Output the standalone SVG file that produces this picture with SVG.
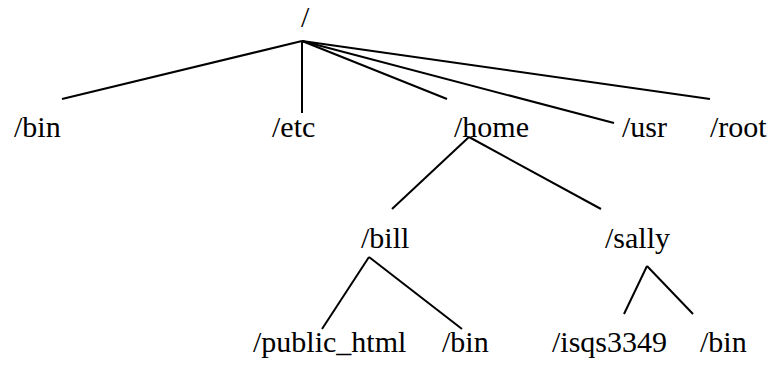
<svg xmlns="http://www.w3.org/2000/svg" width="771" height="368" viewBox="0 0 771 368">
<style>
.t{font-family:'DejaVu Serif',serif;font-size:30px;fill:#000}
.u{font-family:'Times New Roman',serif;font-size:30px;fill:#000}
.c line{stroke:#000;stroke-width:2;stroke-linecap:butt}
</style>
<rect width="771" height="368" fill="#fff"/>
<g class="c" id="connectors">
<line x1="302" y1="41" x2="62" y2="99"/>
<line x1="302" y1="41" x2="302" y2="113"/>
<line x1="302" y1="41" x2="447" y2="99"/>
<line x1="302" y1="41" x2="614" y2="123"/>
<line x1="302" y1="41" x2="710" y2="99"/>
<line x1="469" y1="137" x2="392" y2="209"/>
<line x1="469" y1="137" x2="601" y2="209"/>
<line x1="369" y1="257" x2="322" y2="329"/>
<line x1="369" y1="257" x2="462" y2="329"/>
<line x1="647" y1="266" x2="624" y2="314"/>
<line x1="647" y1="266" x2="693" y2="314"/>
</g>
<g class="u">
<g id="root"><text x="301" y="27">/</text></g>
<g id="bin"><text x="14" y="137">/bin</text></g>
<g id="etc"><text x="272" y="137">/etc</text></g>
<g id="home"><text x="454" y="137">/home</text></g>
<g id="usr"><text x="622" y="137">/usr</text></g>
<g id="rootdir"><text x="710" y="137">/root</text></g>
<g id="bill"><text x="361" y="248">/bill</text></g>
<g id="sally"><text x="605" y="248">/sally</text></g>
<g id="public_html"><text x="253" y="352">/public_html</text></g>
<g id="bill_bin"><text x="442" y="352">/bin</text></g>
<g id="isqs3349"><text x="552" y="352">/isqs3349</text></g>
<g id="sally_bin"><text x="700" y="352">/bin</text></g>
</g>
</svg>
